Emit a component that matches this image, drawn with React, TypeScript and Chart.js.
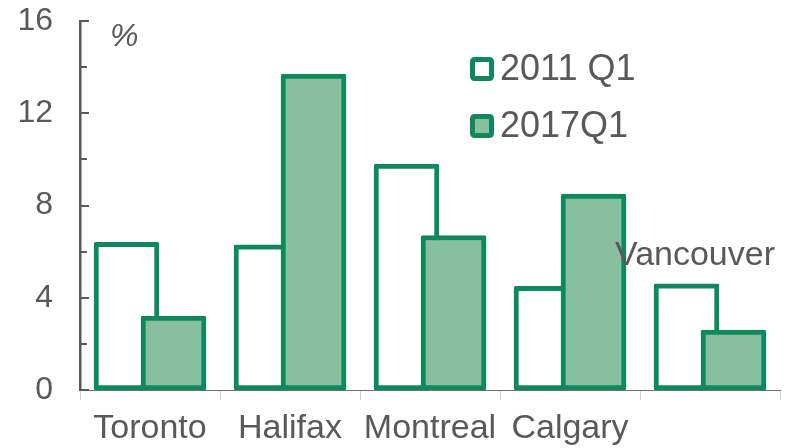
import { useEffect, useRef } from "react";
import { Chart, registerables } from "chart.js";

Chart.register(...registerables);

// ---- data ----
const categories = ["Toronto", "Halifax", "Montreal", "Calgary", "Vancouver"];
const series2011 = [6.4, 6.3, 9.8, 4.5, 4.6];
const series2017 = [3.2, 13.7, 6.7, 8.5, 2.6];
const seriesNames = ["2011 Q1", "2017Q1"];
const yMin = 0;
const yMax = 16;
const yMinorStep = 2;
const yMajorStep = 4;
const unitLabel = "%";

// ---- style ----
const GREEN = "#0E895E";
const LIGHT = "#87BF9F";
const TEXT = "#595959";
const FONT = "'Liberation Sans', Arial, sans-serif";
const SHIFT = 0.168; // series offset within a category (category units)

const overlay = {
  id: "overlay",
  afterDraw(chart: any) {
    const ctx = chart.ctx as CanvasRenderingContext2D;
    const ys = chart.scales.y;
    const xs = chart.scales.x;
    const area = chart.chartArea;
    ctx.save();
    // inward y ticks
    ctx.strokeStyle = TEXT;
    ctx.lineWidth = 2;
    for (const t of ys.ticks) {
      const v = t.value as number;
      const py = Math.round(ys.getPixelForValue(v));
      const len = v % yMajorStep === 0 ? 9 : 7;
      ctx.beginPath();
      ctx.moveTo(area.left, py);
      ctx.lineTo(area.left + len, py);
      ctx.stroke();
    }
    // unit label
    ctx.fillStyle = TEXT;
    ctx.font = `italic 32px ${FONT}`;
    ctx.textAlign = "left";
    ctx.textBaseline = "middle";
    ctx.fillText(unitLabel, area.left + 30, area.top + 16);
    // legend
    const fills = ["#FFFFFF", LIGHT];
    seriesNames.forEach((name, i) => {
      const cx = area.left + 390;
      const cy = area.top + 48 + i * 57;
      ctx.beginPath();
      (ctx as any).roundRect(cx + 2.5, cy - 9.5, 19, 19, 2);
      ctx.fillStyle = fills[i];
      ctx.fill();
      ctx.lineWidth = 5;
      ctx.strokeStyle = GREEN;
      ctx.stroke();
      ctx.fillStyle = TEXT;
      ctx.font = `36px ${FONT}`;
      ctx.textAlign = "left";
      ctx.textBaseline = "middle";
      ctx.fillText(name, cx + 30, cy + 1);
    });
    // floating last category label
    const last = categories.length - 1;
    ctx.font = `34px ${FONT}`;
    ctx.textAlign = "center";
    ctx.fillText(categories[last], xs.getPixelForValue(last) - 15, ys.getPixelForValue(5.81));
    ctx.restore();
  },
};

export default function App() {
  const ref = useRef<HTMLCanvasElement | null>(null);
  useEffect(() => {
    if (!ref.current) return;
    const chart = new Chart(ref.current, {
      type: "bar",
      data: {
        labels: categories,
        datasets: [
          {
            label: seriesNames[0],
            data: series2011.map((v, i) => ({ x: i - SHIFT, y: v })),
            backgroundColor: "#FFFFFF",
            borderColor: GREEN,
            borderWidth: 5,
            borderSkipped: false,
            borderRadius: 2,
            barThickness: 65,
            grouped: false,
            xAxisID: "xv",
            order: 1,
          },
          {
            label: seriesNames[1],
            data: series2017.map((v, i) => ({ x: i + SHIFT, y: v })),
            backgroundColor: LIGHT,
            borderColor: GREEN,
            borderWidth: 5,
            borderSkipped: false,
            borderRadius: 2,
            barThickness: 65,
            grouped: false,
            xAxisID: "xv",
            order: 0,
          },
        ] as any,
      },
      options: {
        animation: false,
        responsive: false,
        devicePixelRatio: 1,
        layout: { padding: { top: 21, right: 16, left: 0, bottom: 0 } },
        plugins: { legend: { display: false }, tooltip: { enabled: false } },
        scales: {
          xv: {
            type: "linear",
            min: -0.5,
            max: categories.length - 0.5,
            display: false,
            offset: false,
          },
          x: {
            type: "category",
            labels: categories,
            offset: true,
            position: "bottom",
            grid: {
              display: true,
              drawOnChartArea: false,
              drawTicks: true,
              tickLength: 10,
              color: "#D0D0D0",
              lineWidth: 1,
              offset: true,
            },
            border: { display: true, color: "#6E6E6E", width: 1 },
            ticks: {
              color: TEXT,
              font: { size: 34, family: FONT },
              padding: 8,
              maxRotation: 0,
              autoSkip: false,
              callback: (_v: any, i: number) => (i === categories.length - 1 ? "" : categories[i]),
            },
            afterFit: (s: any) => {
              s.height = 58;
              s.paddingLeft = 0;
              s.paddingRight = 0;
            },
          },
          y: {
            min: yMin,
            max: yMax,
            ticks: {
              stepSize: yMinorStep,
              color: TEXT,
              font: { size: 32, family: FONT },
              padding: 27,
              callback: (v: any) => (Number(v) % yMajorStep === 0 ? String(v) : ""),
            },
            grid: { display: false, drawTicks: false },
            border: { display: true, color: TEXT, width: 2.5 },
            afterFit: (s: any) => {
              s.width = 80;
              s.paddingTop = 0;
              s.paddingBottom = 0;
            },
          },
        } as any,
      },
      plugins: [overlay],
    });
    return () => chart.destroy();
  }, []);
  return (
    <div style={{ position: "absolute", left: 0, top: 0, width: 796, height: 448 }}>
      <canvas ref={ref} width={796} height={448} />
    </div>
  );
}
